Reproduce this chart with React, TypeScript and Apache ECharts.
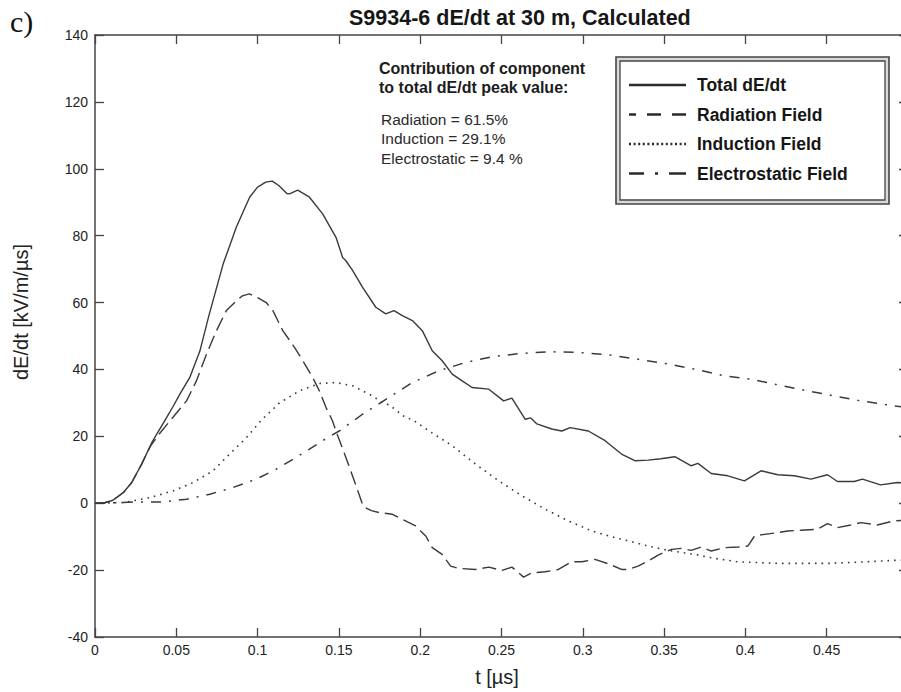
import React, { useEffect, useRef } from "react";
import * as echarts from "echarts";

const FONT = '"Liberation Sans", Arial, Helvetica, sans-serif';
const LINE = "#3a3a3a";

const titleText = "S9934-6 dE/dt at 30 m, Calculated";
const xAxisName = "t [µs]";
const yAxisName = "dE/dt [kV/m/µs]";
const seriesNames = ["Total dE/dt", "Radiation Field", "Induction Field", "Electrostatic Field"];
const noteLines = ["Contribution of component", "to total dE/dt peak value:"];
const contributionLines = ["Radiation = 61.5%", "Induction = 29.1%", "Electrostatic = 9.4 %"];

// t [µs], dE/dt [kV/m/µs]
const totalDEdt: [number, number][] = [
  [0, 0], [0.005, 0], [0.011, 0.9], [0.0175, 3.2], [0.0226, 6.2], [0.0287, 11.7], [0.0349, 18.1],
  [0.044, 25.6], [0.0481, 29], [0.0522, 32.6], [0.0583, 37.6], [0.0645, 45.5], [0.07, 56],
  [0.0788, 71.5], [0.0869, 82.5], [0.0951, 91.5], [0.1, 94.5],
  [0.105, 96], [0.109, 96.3], [0.113, 95], [0.118, 92.6], [0.1196, 92.5], [0.1247, 93.6],
  [0.1319, 91.5], [0.14, 86.5], [0.1482, 79.5], [0.1523, 73.5], [0.1543, 72.5], [0.1584, 69.6],
  [0.1645, 64.6], [0.1727, 58.6], [0.1788, 56.6], [0.1839, 57.6], [0.189, 56.1], [0.1952, 54.6],
  [0.2013, 51.6], [0.2074, 45.6], [0.2135, 42.6], [0.2197, 38.6], [0.2258, 36.6], [0.2319, 34.6],
  [0.2422, 34.1], [0.2513, 30.6], [0.2564, 31.4], [0.2646, 25.1], [0.268, 25.5], [0.2718, 23.7],
  [0.2809, 22.2], [0.2871, 21.6], [0.2922, 22.6], [0.3034, 21.6], [0.3137, 18.7], [0.3238, 14.7],
  [0.332, 12.7], [0.3402, 12.9], [0.348, 13.3], [0.3566, 13.9], [0.3667, 11.2], [0.3708, 11.9],
  [0.379, 8.9], [0.3892, 8.2], [0.3994, 6.7], [0.4096, 9.7], [0.4199, 8.5], [0.4301, 8.2],
  [0.4403, 7.2], [0.4505, 8.5], [0.4566, 6.5], [0.4669, 6.5], [0.472, 7.2], [0.4831, 5.5],
  [0.4934, 6.2], [0.5, 6],
];

const radiationField: [number, number][] = [
  [0, 0], [0.005, 0], [0.011, 0.9], [0.0175, 3.2], [0.0226, 6.2], [0.0287, 11.7], [0.034, 17],
  [0.04, 21], [0.0461, 24.6], [0.0563, 30.6], [0.0624, 36.6], [0.0686, 44.6], [0.0747, 51.6],
  [0.0808, 57.6], [0.0869, 60.5], [0.0906, 62], [0.095, 62.6], [0.1, 61.5], [0.1053, 60],
  [0.1094, 57.6], [0.1155, 51.6], [0.1227, 46.6], [0.1278, 42.6], [0.1339, 37.6], [0.138, 33.6],
  [0.1421, 28.6], [0.1461, 24.6], [0.1482, 21.6], [0.1543, 13.7], [0.16, 6], [0.165, -1],
  [0.17, -2.2], [0.1748, -2.8], [0.1829, -3.3], [0.189, -4.8], [0.1972, -6.8], [0.2034, -9.8],
  [0.2074, -13.3], [0.2135, -15.3], [0.2187, -18.8], [0.2238, -19.5], [0.234, -19.8],
  [0.2422, -19.1], [0.2503, -20.1], [0.2564, -19.1], [0.2636, -22.1], [0.2687, -20.8],
  [0.2769, -20.5], [0.285, -19.8], [0.2932, -17.5], [0.2993, -17.5], [0.3075, -16.8],
  [0.3157, -18.1], [0.3238, -19.8], [0.3279, -19.8], [0.334, -18.8], [0.3402, -17.3],
  [0.3463, -15.5], [0.3545, -13.8], [0.3606, -13.5], [0.3667, -14.1], [0.3729, -13.1],
  [0.379, -14.3], [0.3872, -13.3], [0.3953, -13.1], [0.4015, -12.8], [0.4056, -9.8],
  [0.4117, -9.3], [0.4198, -8.8], [0.426, -8.3], [0.4341, -8.1], [0.4444, -7.8], [0.4505, -6.1],
  [0.4566, -7.3], [0.4648, -6.5], [0.4709, -5.8], [0.4811, -6.5], [0.4913, -5.3], [0.5, -5],
];

const inductionField: [number, number][] = [
  [0, 0], [0.0175, 0.2], [0.0338, 1.7], [0.0481, 3.7], [0.0604, 6.2], [0.0726, 9.7],
  [0.0828, 14.7], [0.0931, 19.6], [0.1022, 24.8], [0.1135, 30], [0.1257, 33.6], [0.138, 35.8],
  [0.1482, 36.1], [0.1584, 35.1], [0.1707, 32.1], [0.1768, 30.1], [0.1809, 29.4], [0.1911, 25.6],
  [0.1952, 25], [0.2054, 21.6], [0.2197, 17.2], [0.234, 11.7], [0.2483, 6.7], [0.2626, 2.2],
  [0.2769, -1.8], [0.2912, -5.3], [0.3055, -8.3], [0.3198, -10.3], [0.33, -11.5], [0.3402, -12.8],
  [0.3524, -14.1], [0.3688, -15.3], [0.381, -16.5], [0.3953, -17.5], [0.4199, -18], [0.4505, -18],
  [0.4709, -17.6], [0.4913, -17.1], [0.5, -17],
];

const electrostaticField: [number, number][] = [
  [0, 0], [0.0277, 0.4], [0.042, 0.4], [0.0563, 1.2], [0.0706, 2.7], [0.0849, 4.7], [0.0992, 7.2],
  [0.1115, 10.2], [0.1196, 12.5], [0.1237, 13.7], [0.1319, 16.2], [0.14, 18.7], [0.1502, 21.6],
  [0.1645, 26.6], [0.1768, 30.4], [0.1952, 36.1], [0.2115, 39.6], [0.2279, 42.1], [0.2442, 43.8],
  [0.2626, 44.8], [0.2789, 45.3], [0.2973, 45.1], [0.3157, 44.4], [0.332, 43.2], [0.3504, 41.8],
  [0.3688, 40.1], [0.3872, 38.1], [0.4035, 37.1], [0.4199, 35.4], [0.4362, 33.8], [0.4546, 32.1],
  [0.4709, 30.6], [0.4913, 29.1], [0.5, 28.6],
];

const X_MIN = 0, X_MAX = 0.5, X_STEP = 0.05;
const Y_MIN = -40, Y_MAX = 140, Y_STEP = 20;

export default function App() {
  const ref = useRef<HTMLDivElement>(null);

  useEffect(() => {
    if (!ref.current) return;
    const chart = echarts.init(ref.current, undefined, { renderer: "svg" });

    const axisLine = { show: true, onZero: false, lineStyle: { color: "#444", width: 1.5 } };
    const tick = { show: true, inside: true, length: 9, lineStyle: { color: "#444", width: 1.3 } };

    const mk = (name: string, data: [number, number][], type: any, width: number) => ({
      name,
      type: "line",
      data,
      xAxisIndex: 0,
      yAxisIndex: 0,
      symbol: "none",
      showSymbol: false,
      smooth: false,
      lineStyle: { color: LINE, width, type },
      itemStyle: { color: LINE },
      emphasis: { disabled: true },
    });

    // legend samples (manual, MATLAB style)
    const legendRowsY = [85, 114.5, 144, 173.5];
    const legendDash: any[] = [null, [14, 11], [2, 2.6], [15, 11, 3, 11, 17, 100]];
    const legendDashOffset = [0, 7, 0, 0];
    const legendGraphics: any[] = [];
    seriesNames.forEach((n, i) => {
      legendGraphics.push({
        type: "line",
        z: 10,
        shape: { x1: 629, y1: legendRowsY[i], x2: 686, y2: legendRowsY[i] },
        style: {
          stroke: "#2a2a2a",
          lineWidth: i === 2 ? 2.4 : 2.6,
          lineDash: legendDash[i],
          lineDashOffset: legendDashOffset[i],
        },
      });
      legendGraphics.push({
        type: "text",
        z: 10,
        x: 697,
        y: legendRowsY[i],
        style: {
          text: n,
          fontFamily: FONT,
          fontSize: 17.5,
          fontWeight: "bold",
          fill: "#161616",
          verticalAlign: "middle",
        },
      });
    });

    chart.setOption({
      animation: false,
      backgroundColor: "#ffffff",
      title: {
        text: titleText,
        left: 349,
        top: 5,
        padding: 0,
        textStyle: { fontFamily: FONT, fontSize: 21.5, fontWeight: "bold", color: "#161616", lineHeight: 26 },
      },
      legend: { show: false, data: seriesNames },
      grid: { left: 95, top: 35, width: 813, height: 602, containLabel: false },
      xAxis: [
        {
          type: "value",
          position: "bottom",
          min: X_MIN,
          max: X_MAX,
          interval: X_STEP,
          name: xAxisName,
          nameLocation: "middle",
          nameGap: 30,
          nameTextStyle: { fontFamily: FONT, fontSize: 20, color: "#222", lineHeight: 20, padding: [0, 9, 0, 0] },
          axisLine,
          axisTick: tick,
          splitLine: { show: false },
          axisLabel: {
            margin: 6,
            fontFamily: FONT,
            fontSize: 14,
            color: "#222",
            lineHeight: 14,
            formatter: (v: number) => (v >= X_MAX - 1e-9 ? "" : String(+v.toFixed(2))),
          },
        },
        {
          type: "value",
          position: "top",
          min: X_MIN,
          max: X_MAX,
          interval: X_STEP,
          axisLine,
          axisTick: tick,
          axisLabel: { show: false },
          splitLine: { show: false },
        },
      ],
      yAxis: [
        {
          type: "value",
          position: "left",
          min: Y_MIN,
          max: Y_MAX,
          interval: Y_STEP,
          name: yAxisName,
          nameLocation: "middle",
          nameGap: 64,
          nameTextStyle: { fontFamily: FONT, fontSize: 20, color: "#222", lineHeight: 20, padding: [0, 0, 0, 48] },
          axisLine,
          axisTick: tick,
          splitLine: { show: false },
          axisLabel: { margin: 7, fontFamily: FONT, fontSize: 14, color: "#222" },
        },
        {
          type: "value",
          position: "right",
          min: Y_MIN,
          max: Y_MAX,
          interval: Y_STEP,
          axisLine,
          axisTick: tick,
          axisLabel: { show: false },
          splitLine: { show: false },
        },
      ],
      graphic: [
        {
          type: "text",
          x: 10,
          y: 21,
          style: { text: "c)", fontFamily: '"Liberation Serif", "Times New Roman", serif', fontSize: 30, fill: "#111", verticalAlign: "middle" },
        },
        {
          type: "text",
          x: 379,
          y: 68.5,
          style: { text: noteLines[0], fontFamily: FONT, fontSize: 16, fontWeight: "bold", fill: "#1c1c1c", verticalAlign: "middle" },
        },
        {
          type: "text",
          x: 379,
          y: 87.5,
          style: { text: noteLines[1], fontFamily: FONT, fontSize: 16, fontWeight: "bold", fill: "#1c1c1c", verticalAlign: "middle" },
        },
        ...contributionLines.map((t, i) => ({
          type: "text",
          x: 381,
          y: 119 + i * 19.5,
          style: { text: t, fontFamily: FONT, fontSize: 15.5, fill: "#2a2a2a", verticalAlign: "middle" },
        })),
        {
          type: "rect",
          z: 5,
          shape: { x: 616, y: 57, width: 273, height: 147 },
          style: { fill: "#d9d9d9", stroke: "#444", lineWidth: 1.6 },
        },
        {
          type: "rect",
          z: 6,
          shape: { x: 620, y: 61, width: 265, height: 139 },
          style: { fill: "#ffffff", stroke: "#444", lineWidth: 1.3 },
        },
        ...legendGraphics,
      ],
      series: [
        mk(seriesNames[0], totalDEdt, "solid", 1.4),
        mk(seriesNames[1], radiationField, [14, 6], 1.4),
        mk(seriesNames[2], inductionField, [1.6, 5], 1.6),
        mk(seriesNames[3], electrostaticField, [10, 8, 2, 8], 1.5),
      ],
    });

    return () => chart.dispose();
  }, []);

  return (
    <div
      style={{
        position: "fixed",
        left: 0,
        top: 0,
        width: 901,
        height: 692,
        overflow: "hidden",
        background: "#fff",
      }}
    >
      <div ref={ref} style={{ width: 920, height: 692 }} />
    </div>
  );
}
